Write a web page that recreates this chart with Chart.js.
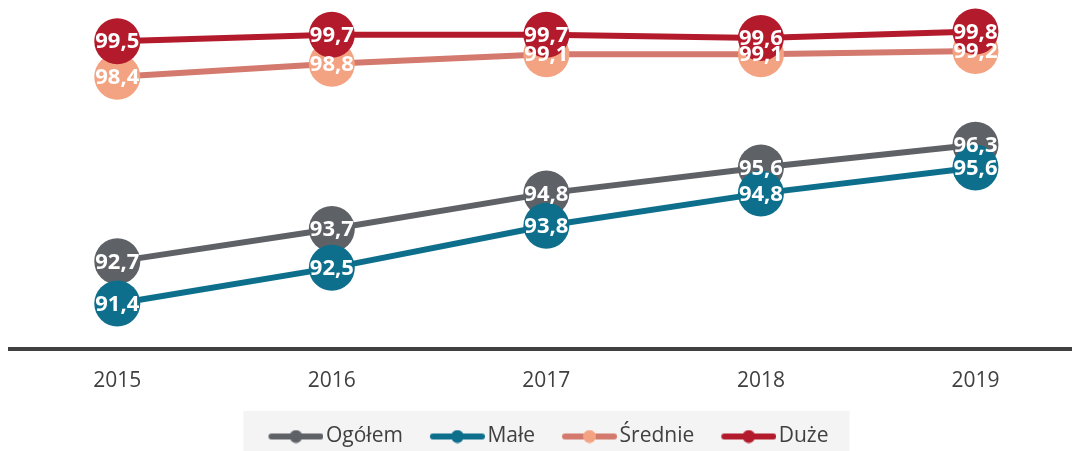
<!DOCTYPE html>
<html lang="pl">
<head>
<meta charset="utf-8">
<title>Wskaźnik 2015–2019</title>
<script src="https://cdn.jsdelivr.net/npm/chart.js@4.4.1/dist/chart.umd.min.js"></script>
<style>
  html, body { margin: 0; padding: 0; background: #fff; }
  #wrap { width: 1072px; height: 451px; position: relative; }
</style>
</head>
<body>
<div id="wrap"><canvas id="chart"></canvas></div>
<script>
// ── Data ─────────────────────────────────────────────────────────────
const years = ['2015', '2016', '2017', '2018', '2019'];
const ogolem = [92.7, 93.7, 94.8, 95.6, 96.3];
const male = [91.4, 92.5, 93.8, 94.8, 95.6];
const srednie = [98.4, 98.8, 99.1, 99.1, 99.2];
const duze = [99.5, 99.7, 99.7, 99.6, 99.8];

const seriesNames = ['Ogółem', 'Małe', 'Średnie', 'Duże'];
const seriesValues = [ogolem, male, srednie, duze];
const lineColors = ['#5e6266', '#0e6f8d', '#d3796d', '#b31a2b'];
const pointColors = ['#5e6266', '#0e6f8d', '#f3a381', '#b31a2b'];

const FONT = '"Open Sans", "Noto Sans", sans-serif';
const TEXT = '#404040';

// line+dot swatch for the legend; transparent on the left so the
// marker sits right next to its label with room between items
function legendSwatch(lineColor, dotColor) {
    const c = document.createElement('canvas');
    c.width = 78; c.height = 14;
    const g = c.getContext('2d');
    g.strokeStyle = lineColor;
    g.lineWidth = 6;
    g.lineCap = 'round';
    g.beginPath();
    g.moveTo(26, 7); g.lineTo(75, 7);
    g.stroke();
    g.fillStyle = dotColor;
    g.beginPath();
    g.arc(50.5, 7, 6.5, 0, Math.PI * 2);
    g.fill();
    return c;
}

// white value labels centred on each point
const valueLabels = {
    id: 'valueLabels',
    afterDatasetsDraw(chart) {
        const ctx = chart.ctx;
        ctx.save();
        ctx.font = 'bold 22px ' + FONT;
        ctx.fillStyle = '#fff';
        ctx.textAlign = 'center';
        ctx.textBaseline = 'middle';
        chart.data.datasets.forEach((ds, i) => {
            const meta = chart.getDatasetMeta(i);
            meta.data.forEach((pt, j) => {
                const v = seriesValues[i][j];
                ctx.fillText(v.toFixed(1).replace('.', ','), pt.x, pt.y + 1);
            });
        });
        ctx.restore();
    }
};

// light grey panel behind the legend
const legendPanel = {
    id: 'legendPanel',
    beforeDraw(chart) {
        const boxes = chart.legend && chart.legend.legendHitBoxes;
        if (!boxes || !boxes.length) return;
        const first = boxes[0], last = boxes[boxes.length - 1];
        const left = first.left + 15 - 25;
        const right = last.left + last.width + 21;
        const ctx = chart.ctx;
        ctx.save();
        ctx.fillStyle = '#f4f4f4';
        ctx.fillRect(left, 411, right - left, 40);
        ctx.restore();
    }
};

function buildChart() {
    const datasets = seriesNames.map((name, i) => ({
        label: name,
        data: seriesValues[i].map((v, j) => ({ x: j, y: v })),
        borderColor: lineColors[i],
        backgroundColor: pointColors[i],
        pointBackgroundColor: pointColors[i],
        pointBorderWidth: 0,
        pointRadius: 23,
        pointHoverRadius: 23,
        borderWidth: 6,
        tension: 0,
        clip: false,
        order: seriesNames.length - i,
    }));

    new Chart(document.getElementById('chart'), {
        type: 'line',
        data: { datasets },
        options: {
            responsive: true,
            maintainAspectRatio: false,
            animation: false,
            layout: { autoPadding: false, padding: { top: 25, left: 10, right: 0, bottom: -6 } },
            plugins: {
                tooltip: { enabled: false },
                legend: {
                    position: 'bottom',
                    labels: {
                        usePointStyle: true,
                        pointStyleWidth: 62,
                        padding: 12,
                        color: TEXT,
                        font: { family: FONT, size: 21 },
                        generateLabels: chart => chart.data.datasets.map((ds, i) => ({
                            text: ds.label,
                            pointStyle: legendSwatch(lineColors[i], pointColors[i]),
                            fontColor: TEXT,
                            datasetIndex: i,
                            lineWidth: 0,
                        }))
                    }
                }
            },
            scales: {
                x: {
                    type: 'linear',
                    min: -0.5,
                    max: 4.45,
                    afterBuildTicks: s => { s.ticks = s.ticks.filter(t => Number.isInteger(t.value)); },
                    grid: { display: false, drawTicks: false },
                    border: { display: true, color: '#404040', width: 4 },
                    ticks: {
                        stepSize: 1,
                        padding: 20,
                        color: TEXT,
                        font: { family: FONT, size: 21 },
                        callback: v => years[v] ?? ''
                    }
                },
                y: {
                    display: false,
                    min: 90,
                    max: 100
                }
            }
        },
        plugins: [legendPanel, valueLabels]
    });
}

document.fonts.load('21px "Open Sans"').then(() => document.fonts.load('bold 22px "Open Sans"')).then(buildChart, buildChart);
</script>
</body>
</html>
